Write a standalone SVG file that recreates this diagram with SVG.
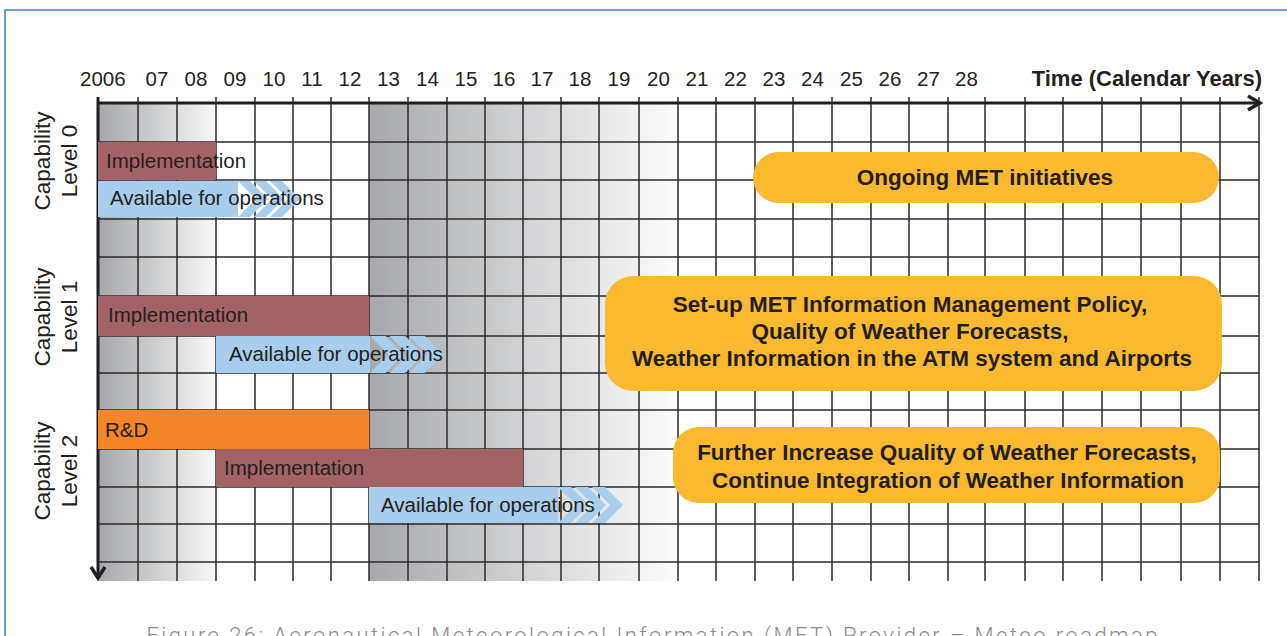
<svg xmlns="http://www.w3.org/2000/svg" width="1287" height="636" viewBox="0 0 1287 636">
<defs>
<linearGradient id="shade1" gradientUnits="userSpaceOnUse" x1="98" y1="0" x2="216" y2="0">
<stop offset="0" stop-color="#a5a7aa"/><stop offset="1" stop-color="#f8f8f8"/>
</linearGradient>
<linearGradient id="shade2" gradientUnits="userSpaceOnUse" x1="369" y1="0" x2="678" y2="0">
<stop offset="0" stop-color="#a6a8ab"/><stop offset="1" stop-color="#fdfdfd"/>
</linearGradient>
<style>
.grid{stroke:#2b2a2b;stroke-width:1.5;fill:none}
.axis{stroke:#231f20;stroke-width:3;fill:none}
.head{stroke:#231f20;stroke-width:3.5;fill:none;stroke-linejoin:miter;stroke-linecap:butt}
.yr{font-family:"Liberation Sans",Arial,sans-serif;font-size:20.5px;fill:#231f20}
.lbl{font-family:"Liberation Sans",Arial,sans-serif;font-size:20.5px;fill:#231f20}
.cap{font-family:"Liberation Sans",Arial,sans-serif;font-size:22.5px;fill:#231f20;text-anchor:middle}
.bold{font-family:"Liberation Sans",Arial,sans-serif;font-size:22.5px;font-weight:bold;fill:#231f20}
.impl{fill:#a36366}
.avail{fill:#a9cdec}
.rd{fill:#f58627}
.box{fill:#fbb930}
.caption{font-family:Roboto,"Liberation Sans",sans-serif;font-weight:300;font-size:22px;fill:#8c8c8c;letter-spacing:2px}
</style>
</defs>
<rect x="0" y="0" width="1287" height="636" fill="#ffffff"/>
<path d="M5 636 V10 H1287" fill="none" stroke="#4a84c4" stroke-width="1.6"/>

<g id="shading">
<rect x="98" y="103" width="118" height="478" fill="url(#shade1)"/>
<rect x="369" y="103" width="309" height="478" fill="url(#shade2)"/>
</g>

<g id="grid">
<path class="grid" d="M138 97V581M177 97V581M216 97V581M255 97V581M293 97V581M331 97V581M369 97V581M408 97V581M447 97V581M485 97V581M523 97V581M561 97V581M599 97V581M639 97V581M678 97V581M716 97V581M755 97V581M793 97V581M832 97V581M871 97V581M909 97V581M948 97V581M985 97V581M1025 97V581M1063 97V581M1102 97V581M1141 97V581M1181 97V581M1220 97V581M1259 97V581"/>
<path class="grid" d="M98 142H1259M98 180H1259M98 219H1259M98 257H1259M98 296H1259M98 336H1259M98 373H1259M98 410H1259M98 449H1259M98 487H1259M98 524H1259M98 562H1259"/>
</g>

<g id="connectors">
<path class="axis" d="M98 103H1260"/>
<polyline class="head" points="1248,96 1260,103 1248,110"/>
<path class="axis" d="M98 97V577"/>
<polyline class="head" points="91,567 98,578 105,567"/>
</g>

<g id="years">
<text class="yr" x="80" y="86">2006</text>
<text class="yr" text-anchor="middle" x="157" y="86">07</text>
<text class="yr" text-anchor="middle" x="196" y="86">08</text>
<text class="yr" text-anchor="middle" x="235" y="86">09</text>
<text class="yr" text-anchor="middle" x="274" y="86">10</text>
<text class="yr" text-anchor="middle" x="312" y="86">11</text>
<text class="yr" text-anchor="middle" x="350" y="86">12</text>
<text class="yr" text-anchor="middle" x="388.5" y="86">13</text>
<text class="yr" text-anchor="middle" x="427.5" y="86">14</text>
<text class="yr" text-anchor="middle" x="466" y="86">15</text>
<text class="yr" text-anchor="middle" x="504" y="86">16</text>
<text class="yr" text-anchor="middle" x="542" y="86">17</text>
<text class="yr" text-anchor="middle" x="580" y="86">18</text>
<text class="yr" text-anchor="middle" x="619" y="86">19</text>
<text class="yr" text-anchor="middle" x="658.5" y="86">20</text>
<text class="yr" text-anchor="middle" x="697" y="86">21</text>
<text class="yr" text-anchor="middle" x="735.5" y="86">22</text>
<text class="yr" text-anchor="middle" x="774" y="86">23</text>
<text class="yr" text-anchor="middle" x="812.5" y="86">24</text>
<text class="yr" text-anchor="middle" x="851.5" y="86">25</text>
<text class="yr" text-anchor="middle" x="890" y="86">26</text>
<text class="yr" text-anchor="middle" x="928.5" y="86">27</text>
<text class="yr" text-anchor="middle" x="966.5" y="86">28</text>
<text class="bold" text-anchor="end" x="1262" y="86" style="font-size:22px">Time (Calendar Years)</text>
</g>

<g id="level0-label">
<text class="cap" transform="translate(50,161) rotate(-90)">Capability</text>
<text class="cap" transform="translate(77,161) rotate(-90)">Level 0</text>
</g>
<g id="level1-label">
<text class="cap" transform="translate(50,317) rotate(-90)">Capability</text>
<text class="cap" transform="translate(77,317) rotate(-90)">Level 1</text>
</g>
<g id="level2-label">
<text class="cap" transform="translate(50,471) rotate(-90)">Capability</text>
<text class="cap" transform="translate(77,471) rotate(-90)">Level 2</text>
</g>

<g id="l0-implementation">
<rect class="impl" x="98" y="142" width="118" height="38"/>
<text class="lbl" x="106" y="168">Implementation</text>
</g>
<g id="l0-available">
<rect class="avail" x="98" y="181" width="140" height="36"/>
<polygon class="avail" points="238,181 250,181 268,199 250,217 238,217 256,199"/>
<polygon class="avail" points="254,181 266,181 284,199 266,217 254,217 272,199"/>
<polygon class="avail" points="270,181 282,181 300,199 282,217 270,217 288,199"/>
<text class="lbl" x="110" y="205">Available for operations</text>
</g>

<g id="l1-implementation">
<rect class="impl" x="98" y="296" width="271" height="40"/>
<text class="lbl" x="108" y="322">Implementation</text>
</g>
<g id="l1-available">
<rect class="avail" x="216" y="336" width="154" height="37"/>
<polygon class="avail" points="370,336 385.5,336 404,354.5 385.5,373 370,373 388.5,354.5"/>
<polygon class="avail" points="389.5,336 405,336 423.5,354.5 405,373 389.5,373 408,354.5"/>
<polygon class="avail" points="409,336 424.5,336 443,354.5 424.5,373 409,373 427.5,354.5"/>
<text class="lbl" x="229" y="361">Available for operations</text>
</g>

<g id="l2-rd">
<rect class="rd" x="98" y="410" width="271" height="39"/>
<text class="lbl" x="105" y="437">R&amp;D</text>
</g>
<g id="l2-implementation">
<rect class="impl" x="216" y="449" width="307" height="38"/>
<text class="lbl" x="224" y="475">Implementation</text>
</g>
<g id="l2-available">
<rect class="avail" x="369" y="487" width="189" height="36"/>
<polygon class="avail" points="558,487 571,487 589,505 571,523 558,523 576,505"/>
<polygon class="avail" points="575,487 588,487 606,505 588,523 575,523 593,505"/>
<polygon class="avail" points="592,487 605,487 623,505 605,523 592,523 610,505"/>
<text class="lbl" x="381" y="512">Available for operations</text>
</g>

<g id="ongoing">
<rect class="box" x="753" y="152" width="466" height="51" rx="25.5"/>
<text class="bold" text-anchor="middle" x="985" y="185">Ongoing MET initiatives</text>
</g>
<g id="level1-goals">
<rect class="box" x="605" y="276" width="617" height="115" rx="28"/>
<text class="bold" text-anchor="middle" x="910" y="312">Set-up MET Information Management Policy,</text>
<text class="bold" text-anchor="middle" x="910" y="339">Quality of Weather Forecasts,</text>
<text class="bold" text-anchor="middle" x="912" y="366">Weather Information in the ATM system and Airports</text>
</g>
<g id="level2-goals">
<rect class="box" x="673" y="427" width="547" height="76" rx="26"/>
<text class="bold" text-anchor="middle" x="947" y="460">Further Increase Quality of Weather Forecasts,</text>
<text class="bold" text-anchor="middle" x="948" y="488">Continue Integration of Weather Information</text>
</g>

<text class="caption" x="653" y="643" text-anchor="middle" textLength="1013" lengthAdjust="spacing">Figure 26: Aeronautical Meteorological Information (MET) Provider – Meteo roadmap</text>
</svg>
